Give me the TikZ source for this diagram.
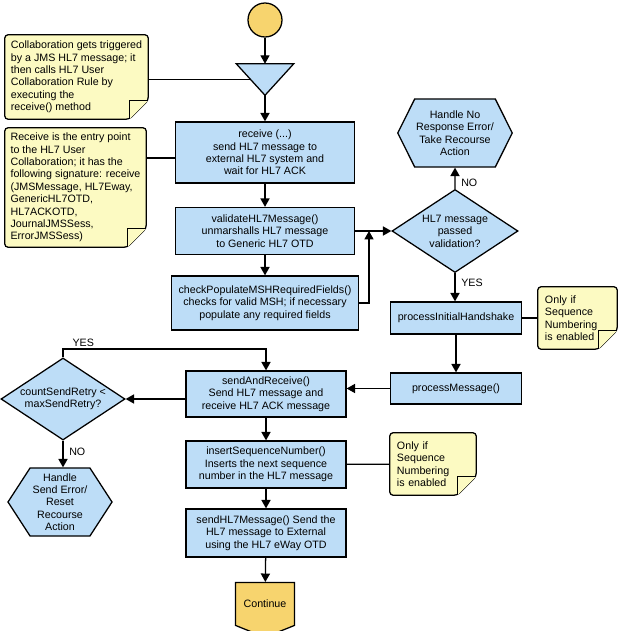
\documentclass[tikz,border=0pt]{standalone}
\usepackage{fontspec}
\setmainfont{Liberation Sans}
\usepackage{tikz}
\usetikzlibrary{shapes.geometric, shapes.symbols, arrows.meta, positioning, calc, backgrounds}

\definecolor{boxblue}{RGB}{189,221,247}
\definecolor{noteyellow}{RGB}{252,250,194}
\definecolor{termgold}{RGB}{247,212,110}

% nota com canto dobrado, desenhada atrás do nó
\newcommand{\dogear}[1]{%
  \draw[notebody] ([xshift=-0.475cm]#1.south east) -- (#1.south west) -- (#1.north west)
    -- (#1.north east) -- ([yshift=0.475cm]#1.south east) -- cycle;
  \draw[notebody, rounded corners=0pt] ([yshift=0.475cm]#1.south east)
    -- ([xshift=-0.475cm,yshift=0.475cm]#1.south east) -- ([xshift=-0.475cm]#1.south east);
}

\begin{document}
\begin{tikzpicture}[x=0.025cm, y=-0.025cm, font=\fontsize{7.6}{8.8}\selectfont,
  block/.style={draw, line width=0.9pt, fill=boxblue, align=center, inner sep=2pt},
  note/.style={align=left, inner sep=0pt},
  notebody/.style={draw, line width=0.9pt, fill=noteyellow, rounded corners=2.5pt},
  decision/.style={diamond, draw, line width=0.9pt, fill=boxblue, align=center, inner sep=0pt, shape aspect=1.53},
  halt/.style={signal, signal to=east and west, draw, line width=0.9pt, fill=boxblue, align=center, inner sep=1pt},
  flow/.style={-{Triangle[length=6pt,width=6.5pt]}, line width=0.9pt},
  link/.style={line width=0.9pt},
  tag/.style={inner sep=1pt}]
  \useasboundingbox (0,0) rectangle (620,631);

  % ---------- inicio ----------
  \node (start) [circle, draw, line width=0.9pt, fill=termgold, minimum size=0.85cm, inner sep=0pt] at (265,20) {};
  \node (tri) [minimum width=1.425cm, minimum height=0.775cm, inner sep=0pt] at (265,79.5) {};

  \node (note1) [note, minimum width=3.575cm, minimum height=2.1cm] at (76.5,77)
    {Collaboration gets triggered\\ by a JMS HL7 message; it\\ then calls HL7 User\\
     Collaboration Rule by\\ executing the\\ receive() method};
  \node (note2) [note, minimum width=3.525cm, minimum height=2.975cm] at (75.5,187.5)
    {Receive is the entry point\\ to the HL7 User\\ Collaboration; it has the\\
     following signature: receive\\ (JMSMessage, HL7Eway,\\ GenericHL7OTD,\\ HL7ACKOTD,\\
     JournalJMSSess,\\ ErrorJMSSess)};

  % ---------- coluna principal ----------
  \node (recv) [block, minimum width=4.475cm, minimum height=1.525cm] at (265,152.5)
    {receive (...)\\ send HL7 message to\\ external HL7 system and\\ wait for HL7 ACK};
  \node (valid) [block, minimum width=4.475cm, minimum height=1.175cm] at (265,231)
    {validateHL7Message()\\ unmarshalls HL7 message\\ to Generic HL7 OTD};
  \node (check) [block, minimum width=4.675cm, minimum height=1.35cm] at (265,303)
    {checkPopulateMSHRequiredFields()\\ checks for valid MSH; if necessary\\ populate any required fields};

  % ---------- validacao ----------
  \node (dia1) [decision, minimum width=3.15cm, minimum height=2.075cm] at (455,231)
    {HL7 message\\ passed\\ validation?};
  \node (hex1) [halt, signal pointer angle=127, minimum width=2.6cm, minimum height=1.7cm] at (455,133)
    {Handle No\\ Response Error/\\ Take Recourse\\ Action};
  \node (pih) [block, minimum width=3.275cm, minimum height=0.8cm] at (456,318) {processInitialHandshake};
  \node (note3) [note, inner xsep=0.175cm, text width=1.625cm, minimum height=1.55cm] at (577.5,318)
    {Only if\\ Sequence\\ Numbering\\ is enabled};
  \node (pmsg) [block, minimum width=3.275cm, minimum height=0.775cm] at (456,388.5) {processMessage()};

  % ---------- envio ----------
  \node (sar) [block, minimum width=4cm, minimum height=1.15cm] at (266,394)
    {sendAndReceive()\\ Send HL7 message and\\ receive HL7 ACK message};
  \node (dia2) [decision, minimum width=3.1cm, minimum height=2.05cm] at (63,399)
    {countSendRetry <\\ maxSendRetry?};
  \node (hex2) [halt, signal pointer angle=114, minimum width=2.6cm, minimum height=1.7cm] at (60,502)
    {Handle\\ Send Error/\\ Reset\\ Recourse\\ Action};
  \node (isn) [block, minimum width=4cm, minimum height=1.175cm] at (266,464.5)
    {insertSequenceNumber()\\ Inserts the next sequence\\ number in the HL7 message};
  \node (note4) [note, inner xsep=0.175cm, text width=1.8cm, minimum height=1.55cm] at (433,464)
    {Only if\\ Sequence\\ Numbering\\ is enabled};
  \node (shm) [block, minimum width=4cm, minimum height=1.2cm] at (266,533)
    {sendHL7Message() Send the\\ HL7 message to External\\ using the HL7 eWay OTD};
  \node (cont) [signal, signal to=south, signal pointer angle=136, draw, line width=0.9pt, fill=termgold,
    minimum width=1.475cm, minimum height=1.3cm, inner sep=1pt] at (265,604) {Continue};

  \coordinate (merge) at (369,231);
  \coordinate (retry) at (63,349);

  \begin{scope}[on background layer]
    \dogear{note1}
    \dogear{note2}
    \dogear{note3}
    \dogear{note4}
  \end{scope}

  % a linha da nota entra por baixo do triangulo
  \draw[link] (note1.east |- tri) -- (tri.center);
  \draw[line width=0.9pt, fill=boxblue] (tri.north west) -- (tri.north east) -- (tri.south) -- cycle;

  \draw[link] ([yshift=-0.14cm]note2.east |- recv) -- ([yshift=-0.14cm]recv.west);
  \draw[link] (pih) -- (note3);
  \draw[link] (isn) -- (note4);

  \draw[flow] (start) -- (tri.north);
  \draw[flow] (tri.south) -- (recv);
  \draw[flow] (recv) -- (valid);
  \draw[flow] (valid) -- (check);
  \draw[flow] (valid) -- (dia1);
  \draw[flow] (check.east) -| (merge);
  \draw[flow] (dia1) -- node[tag, pos=0.3, right=3pt] {NO} (hex1);
  \draw[flow] (dia1.south) -- node[tag, pos=0.35, right=3pt] {YES} (dia1.south |- pih.north);
  \draw[flow] (pih) -- (pmsg);
  \draw[flow] (pmsg.west) -- (pmsg.west -| sar.east);
  \draw[flow] (sar.west |- dia2) -- (dia2);
  \draw[flow] (dia2.north) -- (retry) -| node[tag, pos=0.05, above] {YES} (sar.north);
  \draw[flow] (dia2.south) -- node[tag, pos=0.4, right=3pt] {NO} (dia2.south |- hex2.north);
  \draw[flow] (sar) -- (isn);
  \draw[flow] (isn) -- (shm);
  \draw[flow] (shm) -- (cont);
\end{tikzpicture}
\end{document}
